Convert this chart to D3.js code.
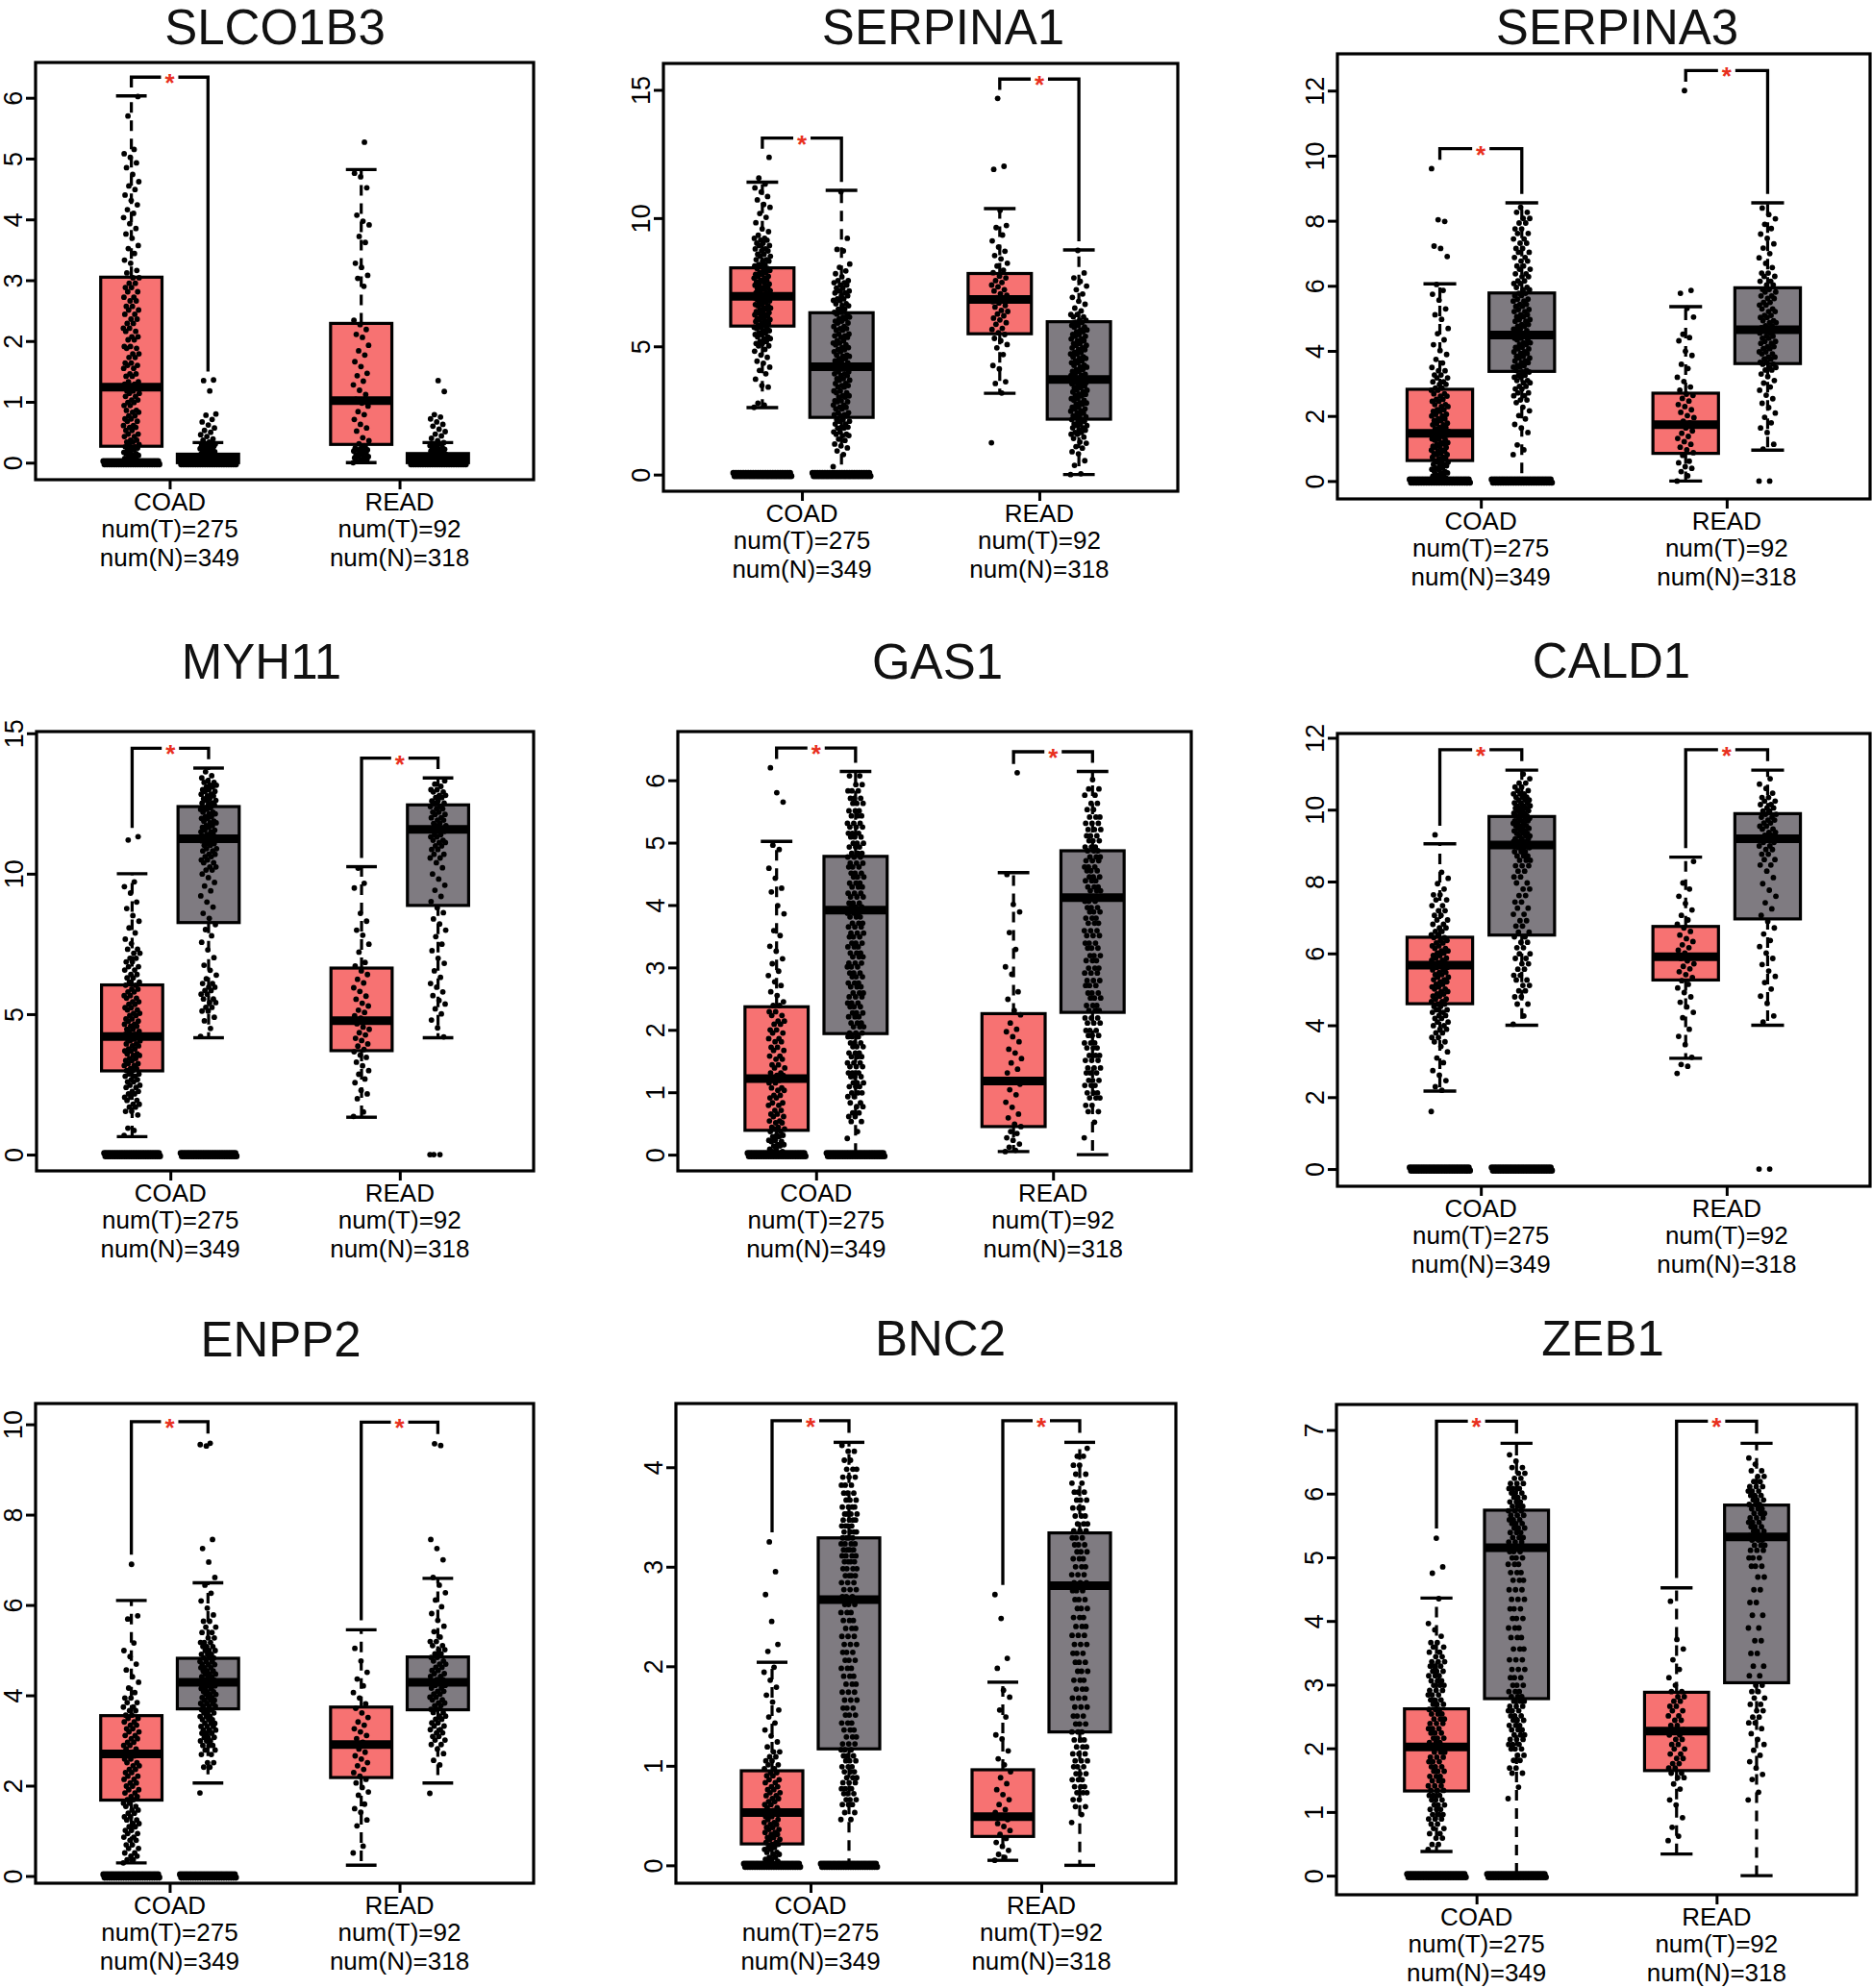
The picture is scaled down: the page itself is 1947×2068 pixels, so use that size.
<!DOCTYPE html>
<html>
<head>
<meta charset="utf-8">
<title>Expression boxplots COAD / READ</title>
<script src="https://d3js.org/d3.v7.min.js"></script>
<style>
  body { margin: 0; background: #fff; }
  text { font-family: "Liberation Sans", Arial, Helvetica, sans-serif; }
</style>
</head>
<body>
<script>
// ---- data ----
var genes = ["SLCO1B3", "SERPINA1", "SERPINA3", "MYH11", "GAS1", "CALD1", "ENPP2", "BNC2", "ZEB1"];
var cancers = ["COAD", "READ"];
var numT = [275, 92];
var numN = [349, 318];

var yTicks = [
  [0, 1, 2, 3, 4, 5, 6], [0, 5, 10, 15], [0, 2, 4, 6, 8, 10, 12],
  [0, 5, 10, 15], [0, 1, 2, 3, 4, 5, 6], [0, 2, 4, 6, 8, 10, 12],
  [0, 2, 4, 6, 8, 10], [0, 1, 2, 3, 4], [0, 1, 2, 3, 4, 5, 6, 7]
];
// axis limits (bottom, top) of each panel
var yRange = [
  [-0.28, 6.58], [-0.65, 16.03], [-0.55, 13.13],
  [-0.58, 15.06], [-0.26, 6.78], [-0.48, 12.12],
  [-0.16, 10.46], [-0.18, 4.64], [-0.30, 7.40]
];

// [lower whisker, Q1, median, Q3, upper whisker] for COAD T, COAD N, READ T, READ N
var boxStats = [
  [[0, 0.27, 1.24, 3.05, 6.03], [0, 0, 0.05, 0.14, 0.33], [0, 0.30, 1.02, 2.29, 4.82], [0, 0, 0.06, 0.15, 0.33]],
  [[2.61, 5.79, 6.95, 8.06, 11.40], [0, 2.23, 4.20, 6.31, 11.08], [3.17, 5.49, 6.83, 7.84, 10.37], [0, 2.16, 3.71, 5.96, 8.76]],
  [[0, 0.63, 1.47, 2.82, 6.06], [0, 3.37, 4.49, 5.78, 8.55], [0, 0.85, 1.73, 2.70, 5.36], [0.95, 3.61, 4.65, 5.94, 8.55]],
  [[0.64, 2.98, 4.20, 6.04, 10.0], [4.16, 8.26, 11.24, 12.39, 13.76], [1.33, 3.70, 4.77, 6.64, 10.25], [4.16, 8.87, 11.58, 12.45, 13.41]],
  [[0, 0.39, 1.22, 2.37, 5.02], [0, 1.94, 3.92, 4.78, 6.14], [0.05, 0.45, 1.18, 2.26, 4.52], [0, 2.28, 4.12, 4.87, 6.14]],
  [[2.17, 4.60, 5.67, 6.45, 9.05], [4.0, 6.51, 9.02, 9.81, 11.1], [3.08, 5.26, 5.91, 6.75, 8.68], [4.0, 6.96, 9.19, 9.89, 11.1]],
  [[0.29, 1.68, 2.70, 3.55, 6.10], [2.06, 3.70, 4.29, 4.82, 6.49], [0.24, 2.18, 2.91, 3.74, 5.45], [2.06, 3.68, 4.29, 4.85, 6.59]],
  [[0, 0.215, 0.53, 0.95, 2.04], [0, 1.17, 2.67, 3.29, 4.25], [0.05, 0.29, 0.49, 0.96, 1.84], [0, 1.34, 2.81, 3.34, 4.25]],
  [[0.38, 1.33, 2.02, 2.62, 4.36], [0, 2.78, 5.15, 5.74, 6.79], [0.34, 1.65, 2.27, 2.88, 4.52], [0, 3.03, 5.32, 5.82, 6.79]]
];

// samples sitting at zero (drawn as a band across the box)
var zeroCounts = [
  [48, 48, 0, 48], [48, 48, 0, 0], [48, 48, 0, 0],
  [48, 48, 0, 0], [48, 48, 0, 0], [48, 48, 0, 0],
  [48, 48, 0, 0], [48, 48, 0, 0], [48, 48, 0, 0]
];

// significance star for COAD, READ
var significant = [
  [true, false], [true, true], [true, true],
  [true, true], [true, true], [true, true],
  [true, true], [true, true], [true, true]
];

// visible jittered points, approximate values; "v*n" = n samples at about v
var pointValues = [
  [ // SLCO1B3
    "0.02*2 0.04*2 0.07*2 0.09*2 0.12*2 0.15*2 0.17*2 0.21*2 0.24*2 0.26*2 0.3*2 0.34*2 0.37*2 0.43*2 0.47*2 0.53*2 0.58*2 0.61*2 0.68*2 0.72*2 0.77*2 0.83*2 0.86*2 0.94*2 0.99*2 1.03*2 1.09*2 1.14*2 1.18*2 1.25*2 1.29*2 1.33*2 1.42*2 1.46*2 1.55*2 1.6*2 1.64*2 1.73*2 1.79*2 1.88*2 1.91*2 2.02*2 2.07*2 2.16*2 2.21*2 2.29*2 2.36*2 2.44*2 2.51*2 2.57*2 2.66*2 2.72*2 2.81*2 2.88*2 2.95*2 3.04*2 3.12 3.16 3.28 3.33 3.44 3.52 3.57 3.69 3.76 3.85 3.93 4.03 4.1 4.16 4.24 4.31 4.4 4.49 4.55 4.62 4.74 4.85 4.93 5.02 5.08 5.15 5.7 6.02",
    "0.01*3 0.03*3 0.04*3 0.06*3 0.07*3 0.09*3 0.11*3 0.12*3 0.14*3 0.16*2 0.18*2 0.21*2 0.23*2 0.24*2 0.27*2 0.29*2 0.31*2 0.34 0.37 0.39 0.43 0.46 0.5 0.53 0.57 0.62 0.67 0.71 0.78 0.8 1.18 1.35 1.36",
    "0.0 0.02*2 0.05*2 0.08*2 0.1*2 0.13*2 0.16*2 0.19*2 0.21*2 0.24*2 0.27 0.31 0.36 0.41 0.52 0.57 0.63 0.71 0.79 0.84 0.93 0.98 1.04 1.12 1.19 1.28 1.34 1.43 1.47 1.58 1.66 1.77 1.84 1.93 2.06 2.11 2.19 2.27 2.34 2.9 3.03 3.08 3.21 3.28 3.62 3.72 3.91 3.97 4.07 4.52 4.7 4.76 5.27",
    "0.01*3 0.03*3 0.05*3 0.07*3 0.08*3 0.1*3 0.12*3 0.14*2 0.16*2 0.19*2 0.21*2 0.22*2 0.25*2 0.28*2 0.31*2 0.33 0.36 0.4 0.44 0.47 0.51 0.55 0.6 0.63 0.67 0.72 0.75 0.79 1.17 1.35"
  ],
  [ // SERPINA1
    "2.62 2.71 2.78 3.41 3.47 3.72 3.93 4.06 4.19 4.34 4.42 4.57 4.66 4.81 4.88 5.02*2 5.11*2 5.19*2 5.3*2 5.37*2 5.46*2 5.53*2 5.61*2 5.69*2 5.74*2 5.83*2 5.89*2 5.97*2 6.04*2 6.09*2 6.17*2 6.23*2 6.31*2 6.35*2 6.44*2 6.49*2 6.58*2 6.63*2 6.71*2 6.77*2 6.84*2 6.89*2 6.97*2 7.04*2 7.08*2 7.17*2 7.24*2 7.29*2 7.38*2 7.43*2 7.52*2 7.57*2 7.66*2 7.73*2 7.81*2 7.87*2 7.96*2 8.04*2 8.13*2 8.19*2 8.32*2 8.38*2 8.51*2 8.59*2 8.72*2 8.8*2 8.93*2 9.02*2 9.14*2 9.21*2 9.33 9.47 9.58 9.82 10.03 10.18 10.42 10.53 10.71 10.84 11.02 11.18 11.33 11.56 12.37",
    "0.31 0.78 0.92 1.04 1.12 1.19 1.33 1.38 1.52*2 1.57*2 1.66*2 1.81*2 1.85*2 1.97*2 2.08*2 2.14*2 2.29*2 2.33*2 2.41*2 2.56*2 2.62*2 2.71*2 2.84*2 2.88*2 3.02*2 3.07*2 3.19*2 3.26*2 3.41*2 3.47*2 3.55*2 3.68*2 3.74*2 3.86*2 3.93*2 4.01*2 4.12*2 4.17*2 4.24*2 4.36*2 4.43*2 4.52*2 4.61*2 4.66*2 4.79*2 4.87*2 4.95*2 5.06*2 5.13*2 5.22*2 5.35*2 5.41*2 5.48*2 5.63*2 5.69*2 5.77*2 5.91*2 5.98*2 6.07*2 6.14*2 6.26*2 6.33*2 6.45*2 6.58*2 6.66*2 6.79*2 6.85*2 6.97*2 7.08*2 7.16*2 7.27*2 7.39*2 7.48*2 7.56*2 7.71 7.83 7.94 8.08 8.21 8.72 8.78 9.21 11.03",
    "1.24 3.18 3.55 3.62 4.12 4.25 4.68 4.94 5.07 5.22 5.31 5.46 5.53 5.66 5.7 5.86 5.92 6.03 6.1 6.19 6.26 6.36 6.4 6.53 6.59 6.69 6.74 6.84 6.9 6.99 7.05 7.16 7.21 7.32 7.39 7.49 7.56 7.67 7.74 7.87 7.97 8.13 8.24 8.41 8.54 8.71 8.87 9.11 9.34 9.63 9.71 10.3 11.9 12.02 14.67",
    "0.0 0.03 0.36 0.54 0.81 0.89 1.03 1.09 1.22 1.27 1.41 1.46 1.57*2 1.64*2 1.73*2 1.82*2 1.91*2 1.97*2 2.08*2 2.14*2 2.25*2 2.29*2 2.4*2 2.47*2 2.56*2 2.62*2 2.75*2 2.79*2 2.9*2 2.96*2 3.07*2 3.13*2 3.22*2 3.29*2 3.39*2 3.45*2 3.54*2 3.59*2 3.69*2 3.76*2 3.86*2 3.91*2 4.02*2 4.09*2 4.19*2 4.26*2 4.36*2 4.43*2 4.53*2 4.59*2 4.7*2 4.76*2 4.87*2 4.94*2 5.04*2 5.11*2 5.22*2 5.29*2 5.39*2 5.46*2 5.57*2 5.64*2 5.75*2 5.82*2 5.94*2 6.02*2 6.15*2 6.24*2 6.38 6.49 6.64 6.76 6.91 7.04 7.21 7.35 7.53 7.67 7.86 8.74"
  ],
  [ // SERPINA3
    "0.04*2 0.09*2 0.15*2 0.19*2 0.25*2 0.29*2 0.36*2 0.4*2 0.47*2 0.51*2 0.58*2 0.62*2 0.69*2 0.73*2 0.81*2 0.84*2 0.91*2 0.95*2 1.03*2 1.07*2 1.14*2 1.18*2 1.26*2 1.3*2 1.37*2 1.41*2 1.49*2 1.53*2 1.61*2 1.65*2 1.73*2 1.78*2 1.86*2 1.91*2 2.0*2 2.05*2 2.14*2 2.19*2 2.29*2 2.35*2 2.45*2 2.51*2 2.61*2 2.68*2 2.79*2 2.86*2 2.97*2 3.05*2 3.17*2 3.26*2 3.39*2 3.49 3.63 3.74 3.89 4.01 4.19 4.34 4.53 4.69 4.97 5.11 5.29 5.56 5.74 5.86 6.04 6.9 7.15 7.22 7.98 8.03 9.6",
    "0.81 0.96 1.11 1.49 1.63 1.74 1.91 2.01 2.16 2.27 2.41 2.49*2 2.62*2 2.71*2 2.83*2 2.91*2 3.02*2 3.09*2 3.19*2 3.25*2 3.35*2 3.4*2 3.5*2 3.55*2 3.64*2 3.69*2 3.78*2 3.83*2 3.92*2 3.97*2 4.06*2 4.11*2 4.2*2 4.25*2 4.34*2 4.39*2 4.48*2 4.53*2 4.62*2 4.67*2 4.76*2 4.81*2 4.91*2 4.96*2 5.05*2 5.11*2 5.21*2 5.27*2 5.37*2 5.43*2 5.53*2 5.59*2 5.7*2 5.77*2 5.88*2 5.95*2 6.07*2 6.15*2 6.28*2 6.37*2 6.51*2 6.61*2 6.76*2 6.87*2 7.03*2 7.15*2 7.31*2 7.44*2 7.61*2 7.75*2 7.93*2 8.07*2 8.26*2 8.41",
    "0.0 0.16 0.29 0.39 0.44 0.56 0.61 0.79 0.87 0.96 1.04 1.13 1.21 1.31 1.37 1.47 1.54 1.63 1.69 1.79 1.84 1.95 2.01 2.11 2.19 2.29 2.35 2.46 2.54 2.63 2.67 2.79 2.89 3.06 3.19 3.46 3.59 3.86 3.99 4.31 4.41 4.51 5.04 5.31 5.77 5.86 12.0",
    "0.0 0.0 0.98 1.13 1.49 1.63 1.79 1.96 2.09 2.26 2.39 2.53 2.64 2.79 2.89 3.01 3.09 3.21 3.29 3.41*2 3.49*2 3.59*2 3.65*2 3.75*2 3.81*2 3.91*2 3.97*2 4.07*2 4.13*2 4.23*2 4.29*2 4.39*2 4.45*2 4.55*2 4.61*2 4.71*2 4.77*2 4.87*2 4.93*2 5.03*2 5.09*2 5.21*2 5.29*2 5.41*2 5.49*2 5.61*2 5.69*2 5.81*2 5.89*2 6.03*2 6.14*2 6.29*2 6.39*2 6.56 6.69 6.86 6.99 7.16 7.29 7.46 7.59 7.76 7.89 8.06 8.19 8.39"
  ],
  [ // MYH11
    "0.68 0.86 0.94 1.41 1.54*2 1.69*2 1.79*2 1.93*2 2.04*2 2.16*2 2.25*2 2.39*2 2.47*2 2.59*2 2.67*2 2.79*2 2.87*2 2.99*2 3.06*2 3.17*2 3.24*2 3.35*2 3.42*2 3.53*2 3.59*2 3.69*2 3.76*2 3.87*2 3.94*2 4.05*2 4.11*2 4.21*2 4.28*2 4.39*2 4.46*2 4.57*2 4.64*2 4.75*2 4.83*2 4.95*2 5.03*2 5.15*2 5.23*2 5.35*2 5.44*2 5.57*2 5.66*2 5.79*2 5.89*2 6.03*2 6.14*2 6.29*2 6.41*2 6.57*2 6.69*2 6.86*2 6.99*2 7.17*2 7.31*2 7.51 7.67 7.89 8.07 8.31 8.51 8.76 8.99 9.31 9.54 9.71 11.2 11.32",
    "4.21 4.49 4.76 4.89 5.11*2 5.24*2 5.41*2 5.54*2 5.71*2 5.84*2 5.96*2 6.09*2 6.26 6.39 6.56 6.74 7.01 7.29 7.56 7.79 8.01 8.19 8.41 8.59 8.81 8.99 9.21 9.39 9.56 9.69 9.86 9.99 10.13*2 10.24*2 10.39*2 10.49*2 10.61*2 10.69*2 10.81*2 10.89*2 11.01*2 11.07*2 11.17*2 11.23*2 11.33*2 11.39*2 11.49*2 11.55*2 11.65*2 11.71*2 11.81*2 11.87*2 11.97*2 12.03*2 12.13*2 12.19*2 12.29*2 12.35*2 12.45*2 12.51*2 12.61*2 12.67*2 12.77*2 12.83*2 12.93*2 12.99*2 13.09*2 13.15*2 13.25*2 13.31 13.41 13.49 13.63",
    "1.36 1.52 1.99 2.16 2.29 2.56 2.69 2.86 2.99 3.16 3.29 3.46 3.54 3.66 3.74 3.86 3.94 4.06 4.14 4.26 4.34 4.46 4.54 4.66 4.74 4.86 4.94 5.06 5.14 5.29 5.39 5.53 5.64 5.81 5.94 6.11 6.24 6.41 6.54 6.71 6.84 7.21 7.49 7.81 7.99 8.31 8.59 9.49 9.66 10.2",
    "0.0 0.0 0.0 4.19 4.51 4.79 5.01 5.19 5.36 5.49 5.66 5.79 5.96 6.09 6.31 6.54 6.81 6.99 7.26 7.49 7.76 7.99 8.21 8.39 8.61 8.79 9.01 9.19 9.41 9.59 9.81 9.99 10.21 10.39 10.56*2 10.69*2 10.86*2 10.99*2 11.11*2 11.19*2 11.31*2 11.39*2 11.51*2 11.59*2 11.71*2 11.79*2 11.91*2 11.99*2 12.11*2 12.19*2 12.31*2 12.39*2 12.51*2 12.59*2 12.71*2 12.79*2 12.91*2 12.99*2 13.11 13.19 13.31"
  ],
  [ // GAS1
    "0.02*2 0.05*2 0.09*2 0.14*2 0.16*2 0.21*2 0.23*2 0.29*2 0.31*2 0.37*2 0.41*2 0.44*2 0.51*2 0.54*2 0.61*2 0.65*2 0.71*2 0.79*2 0.83*2 0.91*2 0.95*2 1.03*2 1.07*2 1.15*2 1.19*2 1.27*2 1.31*2 1.39*2 1.44*2 1.53*2 1.58*2 1.67*2 1.72*2 1.81*2 1.86*2 1.95*2 2.0*2 2.09*2 2.14*2 2.23*2 2.29*2 2.39*2 2.45 2.55 2.61 2.71 2.77 2.87 2.94 3.06 3.14 3.26 3.34 3.51 3.59 3.86 3.99 4.21 4.27 4.43 4.59 4.89 4.96 5.65 5.8 6.2",
    "0.26 0.37 0.53*2 0.61*2 0.67*2 0.77*2 0.83*2 0.93*2 0.99*3 1.09*3 1.15*3 1.25*3 1.31*3 1.41*3 1.47*3 1.57*3 1.63*3 1.73*3 1.79*3 1.89*3 1.95*3 2.05*3 2.11*3 2.21*3 2.27*3 2.37*3 2.43*3 2.53*3 2.59*3 2.69*3 2.75*3 2.85*3 2.91*3 3.01*3 3.07*3 3.17*3 3.23*3 3.33*3 3.39*3 3.49*3 3.55*3 3.65*3 3.71*3 3.81*3 3.87*3 3.97*3 4.03*3 4.13*3 4.19*3 4.29*3 4.35*3 4.45*3 4.51*3 4.61*3 4.67*3 4.77*3 4.83*3 4.93*3 4.99*3 5.09*3 5.15*3 5.25*3 5.31*3 5.43*3 5.51*3 5.63*3 5.71*3 5.83*3 5.93*2 6.07*2",
    "0.05 0.07 0.12 0.17 0.23 0.27 0.34 0.37 0.45 0.49 0.59 0.65 0.76 0.84 0.96 1.04 1.13 1.19 1.31 1.37 1.47 1.54 1.63 1.69 1.81 1.89 1.97 2.01 2.11 2.24 2.31 2.49 2.61 2.89 3.01 3.29 3.56 3.89 4.01 4.49 6.12",
    "0.27 0.52 0.69*2 0.79*2 0.91*3 0.99*3 1.11*3 1.19*3 1.31*3 1.39*3 1.51*3 1.59*3 1.71*3 1.79*3 1.91*3 1.99*3 2.11*3 2.19*3 2.31*3 2.39*3 2.51*3 2.59*3 2.71*3 2.79*3 2.91*3 2.99*3 3.11*3 3.19*3 3.31*3 3.39*3 3.51*3 3.59*3 3.71*3 3.79*3 3.89*3 3.96*3 4.06*3 4.13*3 4.23*3 4.29*3 4.39*3 4.45*3 4.55*3 4.61*3 4.71*3 4.77*3 4.87*3 4.93*3 5.03*3 5.11*3 5.21*3 5.31*3 5.41*3 5.53*2 5.63*2 5.76*2 5.86*2 6.01"
  ],
  [ // CALD1
    "1.6 2.19 2.29 2.46 2.61 2.74 2.96 3.09 3.26 3.41 3.54*2 3.66*2 3.79*2 3.89*2 3.99*2 4.09*2 4.19*2 4.27*2 4.36*2 4.43*2 4.52*2 4.59*2 4.66*2 4.73*2 4.81*2 4.87*2 4.94*2 5.01*2 5.07*2 5.14*2 5.21*2 5.27*2 5.34*2 5.41*2 5.47*2 5.54*2 5.61*2 5.67*2 5.74*2 5.81*2 5.87*2 5.94*2 6.01*2 6.07*2 6.14*2 6.21*2 6.29*2 6.36*2 6.44*2 6.52*2 6.61*2 6.71*2 6.81*2 6.93*2 7.06*2 7.19*2 7.33*2 7.49*2 7.63*2 7.79 7.94 8.09 8.26 9.3",
    "4.03 4.26 4.59*2 4.79*2 4.96*2 5.11*2 5.26*2 5.39*2 5.56*2 5.71*2 5.86*2 5.99*2 6.16*2 6.31*2 6.46*2 6.59*2 6.76*2 6.91*2 7.09*2 7.26*2 7.43*2 7.61*2 7.79*2 7.96*2 8.13*2 8.29*2 8.44*3 8.59*3 8.71*3 8.83*3 8.94*3 9.03*3 9.11*3 9.19*3 9.27*3 9.34*3 9.41*3 9.48*3 9.55*3 9.62*3 9.69*3 9.76*3 9.83*3 9.9*3 9.97*3 10.04*3 10.11*3 10.19*3 10.27*3 10.35*3 10.44*3 10.53*2 10.63*2 10.74*2 10.86 10.99",
    "2.66 2.86 2.91 3.11 3.46 3.69 3.89 4.21 4.36 4.51 4.64 4.79 4.91 5.04 5.14 5.24 5.33 5.41 5.49 5.57 5.64 5.71 5.79 5.86 5.93 6.01 6.09 6.16 6.24 6.33 6.41 6.51 6.61 6.71 6.81 6.93 7.06 7.21 7.39 7.59 7.79 7.96 8.56",
    "0.0 0.0 4.09 4.26 4.61 4.81 5.01 5.19 5.36 5.51 5.69 5.86 6.01 6.19 6.36 6.54 6.71 6.89 7.06 7.24 7.41 7.59 7.76 7.94 8.11 8.29 8.46*2 8.61*2 8.76*2 8.89*2 8.99*2 9.09*2 9.19*2 9.29*2 9.37*2 9.46*2 9.54*2 9.63*2 9.71*2 9.79*2 9.87*2 9.96*2 10.05*2 10.14*2 10.24*2 10.34*2 10.46 10.59 10.71 10.86"
  ],
  [ // ENPP2
    "0.29 0.36*2 0.44*2 0.51*2 0.61*2 0.69*2 0.79*2 0.86*2 0.94*2 1.01*2 1.09*2 1.16*2 1.24*2 1.31*2 1.39*2 1.46*2 1.54*2 1.61*2 1.69*2 1.76*2 1.84*2 1.91*2 1.99*2 2.06*2 2.14*2 2.21*2 2.29*2 2.36*2 2.44*2 2.51*2 2.59*2 2.66*2 2.74*2 2.81*2 2.89*2 2.96*2 3.04*2 3.11*2 3.19*2 3.26*2 3.34*2 3.41*2 3.49*2 3.56*2 3.66*2 3.74*2 3.84*2 3.94*2 4.06 4.16 4.29 4.41 4.56 4.69 4.86 4.99 5.16 5.69 5.76 6.9",
    "1.84 2.41*2 2.51*2 2.69*2 2.79*2 2.89*3 2.99*3 3.07*3 3.16*3 3.23*3 3.31*3 3.38*3 3.46*3 3.53*3 3.61*3 3.68*3 3.76*3 3.82*3 3.89*3 3.95*3 4.02*3 4.08*3 4.15*3 4.21*3 4.28*3 4.34*3 4.41*3 4.47*3 4.54*3 4.61*3 4.68*3 4.75*3 4.83*3 4.91*3 4.99*3 5.08*3 5.17*3 5.27*2 5.39*2 5.51*2 5.64*2 5.78 5.93 6.09 6.26 6.44 6.61 6.95 7.25 7.45 9.52 9.55 9.58",
    "0.51 0.66 1.11 1.24 1.41 1.49 1.59 1.79 1.86 1.96 2.06 2.14 2.21 2.29 2.36 2.44 2.51 2.59 2.66 2.74 2.81 2.89 2.96 3.04 3.11 3.19 3.26 3.34 3.41 3.51 3.61 3.71 3.81 3.94 4.06 4.21 4.36 4.51 4.76 5.04",
    "1.83 2.46 2.56 2.71 2.81 2.91*2 3.01*2 3.09*2 3.17*2 3.24*2 3.32*2 3.39*2 3.47*2 3.54*2 3.62*2 3.69*2 3.77*2 3.83*2 3.9*2 3.96*2 4.03*2 4.09*2 4.16*2 4.22*2 4.29*2 4.35*2 4.42*2 4.48*2 4.55*2 4.62*2 4.69*2 4.76*2 4.84*2 4.92*2 5.01*2 5.1*2 5.19*2 5.29 5.41 5.53 5.66 5.81 5.96 6.11 6.27 6.44 6.61 7.0 7.25 7.45 9.53 9.57"
  ],
  [ // BNC2
    "0.01*2 0.04*2 0.06*2 0.08*2 0.11*2 0.13*2 0.16*2 0.18*2 0.21*2 0.23*2 0.26*2 0.28*2 0.31*2 0.33*2 0.36*2 0.38*2 0.41*2 0.43*2 0.46*2 0.49*2 0.52*2 0.55*2 0.58*2 0.61*2 0.64*2 0.67*2 0.7*2 0.73*2 0.76*2 0.79*2 0.83*2 0.86*2 0.9*2 0.93*2 0.97*2 1.01*2 1.05*2 1.09*2 1.14*2 1.19 1.24 1.3 1.36 1.43 1.49 1.56 1.64 1.71 1.79 1.86 1.94 1.99 2.15 2.22 2.45 2.72 2.95 3.25",
    "0.46*2 0.53*2 0.61*3 0.66*3 0.72*3 0.77*3 0.83*3 0.88*3 0.94*3 0.99*3 1.05*3 1.1*3 1.16*3 1.22*3 1.29*3 1.36*3 1.43*3 1.51*3 1.58*3 1.66*3 1.74*3 1.82*3 1.9*3 1.98*3 2.06*3 2.14*3 2.22*3 2.3*3 2.38*3 2.46*3 2.54*3 2.62*3 2.7*3 2.77*3 2.84*3 2.91*4 2.98*4 3.05*4 3.11*4 3.17*4 3.23*4 3.29*4 3.35*4 3.41*4 3.47*4 3.53*4 3.6*4 3.67*3 3.74*3 3.82*3 3.9*3 3.98*3 4.07*2 4.16*2 4.22",
    "0.05 0.08 0.11 0.15 0.19 0.23 0.27 0.31 0.35 0.39 0.42 0.46 0.49 0.53 0.56 0.61 0.66 0.71 0.76 0.82 0.88 0.94 1.01 1.07 1.15 1.27 1.31 1.49 1.56 1.69 1.76 1.98 2.08 2.48 2.72",
    "0.43 0.51 0.59*2 0.66*2 0.73*3 0.79*3 0.86*3 0.92*3 0.99*3 1.05*3 1.12*3 1.19*3 1.26*3 1.34*3 1.42*3 1.5*3 1.59*3 1.68*3 1.77*3 1.86*3 1.95*3 2.04*3 2.13*3 2.22*3 2.31*3 2.4*3 2.49*3 2.58*3 2.67*3 2.76*3 2.84*3 2.92*3 3.0*3 3.08*3 3.15*3 3.22*3 3.29*3 3.36*3 3.43*3 3.51*3 3.59*3 3.67*3 3.75*3 3.84*2 3.93*2 4.02*2 4.11*2 4.19"
  ],
  [ // ZEB1
    "0.41 0.49*2 0.59*2 0.66*2 0.74*2 0.81*2 0.89*3 0.96*3 1.04*3 1.11*3 1.19*3 1.26*3 1.34*3 1.41*3 1.49*3 1.56*3 1.64*3 1.71*3 1.79*3 1.86*3 1.94*3 2.01*3 2.09*3 2.16*3 2.24*3 2.31*3 2.39*3 2.46*3 2.54*3 2.61*3 2.69*3 2.76*3 2.84*3 2.91*3 2.99*3 3.06*3 3.14*3 3.21*3 3.29*3 3.36*3 3.44*2 3.51*2 3.59*2 3.66*2 3.76 3.86 3.96 4.35 4.75 4.85 5.3",
    "1.21 1.39 1.61*2 1.69*2 1.81*2 1.89*2 1.99*3 2.06*3 2.14*3 2.21*3 2.29*3 2.36*3 2.44*3 2.51*3 2.59*3 2.66*3 2.74*3 2.81*3 2.89*3 2.99*3 3.11*3 3.24*3 3.39*3 3.56*3 3.74*3 3.89*3 4.04*3 4.19*3 4.34*3 4.49*3 4.64*3 4.76*3 4.89*3 4.99*3 5.09*3 5.17*3 5.24*3 5.31*3 5.39*3 5.46*3 5.53*3 5.59*3 5.66*3 5.73*3 5.8*3 5.87*3 5.94*3 6.01*3 6.08*3 6.16*3 6.24*2 6.32*2 6.41*2 6.51 6.61",
    "0.55 0.62 0.76 0.91 1.11 1.19 1.36 1.44 1.54*2 1.61*2 1.69*2 1.76*2 1.84*2 1.91*2 1.99*2 2.06*2 2.14*2 2.21*2 2.29*2 2.36*2 2.44*2 2.51*2 2.59*2 2.66*2 2.74*2 2.81*2 2.89*2 2.99 3.11 3.24 3.39 3.56 3.71 4.31",
    "1.19 1.31 1.51 1.59 1.69 1.79 1.89 1.97 2.06 2.14 2.23 2.31 2.4*2 2.49*2 2.59*2 2.69*2 2.79*2 2.89*2 2.99*2 3.14*2 3.29*2 3.49*2 3.69*2 3.89*2 4.09*2 4.29*2 4.49*2 4.69*2 4.86*3 4.99*3 5.11*3 5.19*3 5.27*3 5.34*3 5.41*3 5.48*3 5.55*3 5.62*3 5.69*3 5.76*3 5.83*3 5.9*3 5.97*3 6.04*3 6.11*3 6.19*2 6.27*2 6.36*2 6.46 6.56"
  ]
];

// ---- layout ----
var W = 1947, H = 2068;
// plot frame of each panel: left, top, right, bottom
var frames = [
  [37, 65, 555, 499], [690, 66, 1225, 511], [1391, 56, 1945, 519],
  [38, 761, 555, 1218], [705, 761, 1239, 1218], [1391, 763, 1945, 1234],
  [37, 1460, 555, 1959], [703, 1460, 1223, 1959], [1390, 1461, 1931, 1971]
];
// title centre x, baseline y, font size
var titlePos = [
  [286, 46, 51], [981, 46, 51], [1682, 46, 51],
  [272, 706, 51], [975, 706, 51], [1676, 705, 51],
  [292, 1411, 51], [978, 1410, 51], [1667, 1410, 51]
];
var groupPos = [1, 2, 4, 5];
var tumorColor = "#F77272", normalColor = "#7F7B81";
var dotR = 2.9;

var svg = d3.select("body").append("svg")
  .attr("width", W)
  .attr("height", H);

svg.append("rect").attr("width", W).attr("height", H).attr("fill", "#fff");

function parsePoints(str) {
  var out = [];
  str.split(" ").forEach(function(tok) {
    var a = tok.split("*");
    var v = +a[0], n = a.length > 1 ? +a[1] : 1;
    for (var k = 0; k < n; k++) out.push(v);
  });
  return out;
}

function jitter(i) {
  // spread consecutive points across the stripe
  return (((i * 0.618034) % 1) - 0.5) * 2 * 0.105;
}

function drawPanel(p) {
  var f = frames[p];
  var x = d3.scaleLinear().domain([-0.25, 6.25]).range([f[0], f[2]]);
  var y = d3.scaleLinear().domain(yRange[p]).range([f[3], f[1]]);
  var g = svg.append("g");

  var groups = boxStats[p].map(function(s, i) {
    return {
      pos: groupPos[i],
      s: s,
      fill: i % 2 ? normalColor : tumorColor,
      values: parsePoints(pointValues[p][i]),
      zeros: zeroCounts[p][i]
    };
  });

  groups.forEach(function(d) {
    var cx = x(d.pos);
    // dashed whiskers
    g.append("line")
      .attr("x1", cx).attr("x2", cx)
      .attr("y1", y(d.s[3])).attr("y2", y(d.s[4]))
      .attr("stroke", "#000").attr("stroke-width", 3.2)
      .attr("stroke-dasharray", "11,8");
    if (d.s[0] < d.s[1]) {
      g.append("line")
        .attr("x1", cx).attr("x2", cx)
        .attr("y1", y(d.s[1])).attr("y2", y(d.s[0]))
        .attr("stroke", "#000").attr("stroke-width", 3.2)
        .attr("stroke-dasharray", "11,8");
    }
    // caps
    [d.s[0], d.s[4]].forEach(function(v) {
      g.append("line")
        .attr("x1", x(d.pos - 0.2)).attr("x2", x(d.pos + 0.2))
        .attr("y1", y(v)).attr("y2", y(v))
        .attr("stroke", "#000").attr("stroke-width", 3.4);
    });
    // box
    g.append("rect")
      .attr("x", x(d.pos - 0.4))
      .attr("y", y(d.s[3]))
      .attr("width", x(d.pos + 0.4) - x(d.pos - 0.4))
      .attr("height", Math.max(1, y(d.s[1]) - y(d.s[3])))
      .attr("fill", d.fill)
      .attr("stroke", "#000").attr("stroke-width", 3.2);
    // median
    g.append("line")
      .attr("x1", x(d.pos - 0.4)).attr("x2", x(d.pos + 0.4))
      .attr("y1", y(d.s[2])).attr("y2", y(d.s[2]))
      .attr("stroke", "#000").attr("stroke-width", 9);
  });

  // jittered points
  groups.forEach(function(d) {
    g.append("g").selectAll("circle")
      .data(d.values)
      .enter().append("circle")
      .attr("cx", function(v, i) { return x(d.pos + jitter(i)); })
      .attr("cy", function(v) { return y(v); })
      .attr("r", dotR)
      .attr("fill", "#000");

    // band of samples at zero
    if (d.zeros > 0) {
      var x0 = x(d.pos - 0.4) + dotR, x1 = x(d.pos + 0.4) - dotR;
      g.append("g").selectAll("circle")
        .data(d3.range(d.zeros))
        .enter().append("circle")
        .attr("cx", function(i) { return x0 + (x1 - x0) * i / (d.zeros - 1); })
        .attr("cy", function(i) { return y(0) + (i % 2 ? 1.6 : -1.6); })
        .attr("r", dotR + 0.4)
        .attr("fill", "#000");
    }
  });

  // significance brackets
  var span = yRange[p][1] - yRange[p][0];
  [0, 1].forEach(function(c) {
    if (!significant[p][c]) return;
    var t = groups[2 * c], n = groups[2 * c + 1];
    var mT = Math.max(t.s[4], d3.max(t.values));
    var mN = Math.max(n.s[4], d3.max(n.values));
    var top = y(Math.max(mT, mN) + 0.045 * span);
    var xa = x(t.pos), xb = x(n.pos), mid = (xa + xb) / 2;
    g.append("path")
      .attr("d", "M" + xa + "," + y(mT + 0.02 * span) + "V" + top + "H" + (mid - 9) +
                 "M" + (mid + 9) + "," + top + "H" + xb + "V" + y(mN + 0.02 * span))
      .attr("fill", "none")
      .attr("stroke", "#000")
      .attr("stroke-width", 3.3);
    g.append("text")
      .attr("x", mid)
      .attr("y", top + 15)
      .attr("text-anchor", "middle")
      .attr("font-size", 26)
      .attr("font-weight", "bold")
      .attr("fill", "#E8301E")
      .text("*");
  });

  // frame
  g.append("rect")
    .attr("x", f[0]).attr("y", f[1])
    .attr("width", f[2] - f[0]).attr("height", f[3] - f[1])
    .attr("fill", "none")
    .attr("stroke", "#000").attr("stroke-width", 3.2);

  // y axis with rotated labels
  var ya = g.append("g")
    .attr("transform", "translate(" + f[0] + ",0)")
    .call(d3.axisLeft(y).tickValues(yTicks[p]).tickFormat(d3.format("d")).tickSize(10).tickSizeOuter(0));
  ya.select(".domain").remove();
  ya.selectAll(".tick line").attr("stroke", "#000").attr("stroke-width", 3);
  ya.selectAll(".tick text")
    .attr("transform", "rotate(-90)")
    .attr("x", 0)
    .attr("y", -14)
    .attr("dy", null)
    .attr("text-anchor", "middle")
    .attr("font-size", 27)
    .attr("font-family", "'Liberation Sans', Arial, sans-serif")
    .attr("fill", "#000");

  // x axis ticks and labels
  var xa = g.append("g")
    .attr("transform", "translate(0," + f[3] + ")")
    .call(d3.axisBottom(x).tickValues([1.5, 4.5]).tickSize(10).tickSizeOuter(0).tickFormat(""));
  xa.select(".domain").remove();
  xa.selectAll(".tick line").attr("stroke", "#000").attr("stroke-width", 3);

  cancers.forEach(function(name, c) {
    var lines = [name, "num(T)=" + numT[c], "num(N)=" + numN[c]];
    var offs = [32, 60, 90];
    lines.forEach(function(s, k) {
      g.append("text")
        .attr("x", x(c === 0 ? 1.5 : 4.5))
        .attr("y", f[3] + offs[k])
        .attr("text-anchor", "middle")
        .attr("font-size", 26)
        .attr("fill", "#000")
        .text(s);
    });
  });

  // title
  g.append("text")
    .attr("x", titlePos[p][0])
    .attr("y", titlePos[p][1])
    .attr("text-anchor", "middle")
    .attr("font-size", titlePos[p][2])
    .attr("fill", "#111")
    .text(genes[p]);
}

genes.forEach(function(gene, p) { drawPanel(p); });
</script>
</body>
</html>
